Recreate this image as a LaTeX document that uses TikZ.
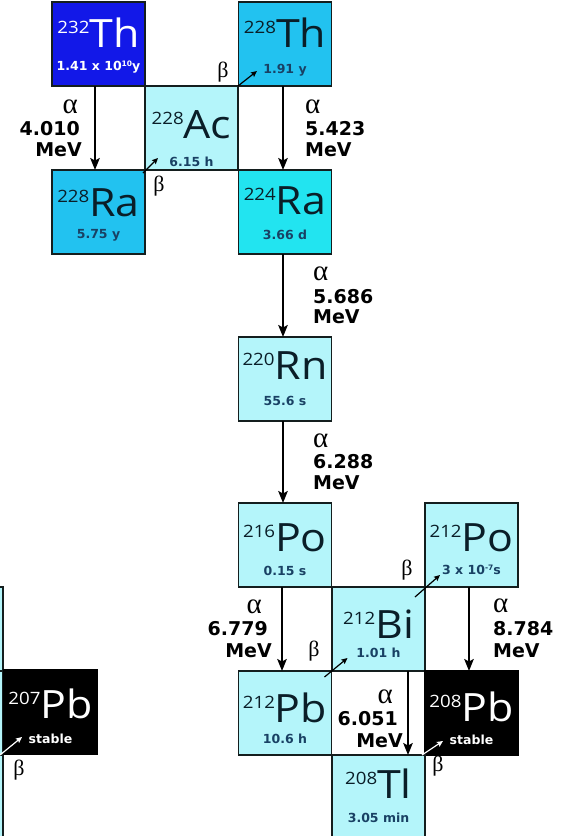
\documentclass[tikz,border=0pt]{standalone}
\usepackage{fontspec}
\usetikzlibrary{arrows.meta}
\newfontfamily\symfont[FakeStretch=1.1]{Open Sans}
\newfontfamily\dvfont{DejaVu Sans}
\newfontfamily\grkfont{Liberation Serif}
\definecolor{cBlue}{RGB}{18,24,232}
\definecolor{cSky}{RGB}{34,194,240}
\definecolor{cCyan}{RGB}{34,228,240}
\definecolor{cLight}{RGB}{180,245,250}
\definecolor{cEdge}{RGB}{20,30,30}
\definecolor{cSym}{RGB}{10,30,40}
\definecolor{cHl}{RGB}{25,65,100}
\newcommand\mass[1]{{\fontsize{17}{17}\selectfont\raisebox{13.5pt}{#1}}}
\newcommand\sups[1]{\raisebox{4pt}{\fontsize{7.5}{7.5}\selectfont #1}}
\begin{document}
\begin{tikzpicture}[x=1pt,y=1pt,
  box/.style={draw=cEdge, line width=1.5pt, minimum width=93pt, minimum height=84pt, inner sep=0pt, outer sep=0pt},
  darkbox/.style={box, draw=black, fill=black},
  sym/.style={anchor=base, inner sep=0pt, text=cSym, font=\symfont\fontsize{39}{39}\selectfont},
  hl/.style={anchor=base, inner sep=0pt, text=cHl, font=\dvfont\bfseries\fontsize{12.5}{12.5}\selectfont},
  ondark/.style={text=white},
  lab/.style={inner sep=0pt, font=\dvfont\bfseries\fontsize{19}{19}\selectfont},
  grk/.style={inner sep=0pt, font=\grkfont\fontsize{29}{29}\selectfont},
  bet/.style={inner sep=0pt, font=\grkfont\fontsize{22}{22}\selectfont},
  adecay/.style={line width=1.6pt, -{Stealth[length=12pt,width=9.5pt,inset=2.5pt]}},
  bdecay/.style={line width=1.2pt, -{Stealth[length=6pt,width=5.5pt,inset=1pt]}},
]
\useasboundingbox (0,0) rectangle (569,-836);
\clip (0,0) rectangle (569,-836);
\fill[white] (0,0) rectangle (569,-836);

% boxes
\node[box, fill=cBlue] (thA) at (98.5,-44) {};
\node[box, fill=cSky] (thB) at (285,-44) {};
\node[box, fill=cLight] (ac) at (191.5,-128) {};
\node[box, fill=cSky] (raA) at (98.5,-212) {};
\node[box, fill=cCyan] (raB) at (285,-212) {};
\node[box, fill=cLight] (rn) at (285,-379) {};
\node[box, fill=cLight] (poA) at (285,-545) {};
\node[box, fill=cLight] (poB) at (471.5,-545) {};
\node[box, fill=cLight] (bi) at (378.5,-629) {};
\node[box, fill=cLight] (pbA) at (285,-713) {};
\node[darkbox] (pbB) at (471.5,-713) {};
\node[box, fill=cLight] (tl) at (378.5,-797) {};
\node[box, fill=cLight] (biL) at (-43.5,-629) {};
\node[box, fill=cLight] (pbL) at (-43.5,-713) {};
\node[box, fill=cLight] (tlL) at (-43.5,-797) {};
\node[darkbox] (pbC) at (50.5,-712) {};

% symbols
\node[sym, ondark] (thAs) at ([yshift=-45pt]thA.north) {\mass{232}Th};
\node[hl, ondark] (thAh) at ([yshift=-68pt]thA.north) {1.41 x 10\sups{10}y};
\node[sym] (thBs) at ([yshift=-45pt]thB.north) {\mass{228}Th};
\node[hl] (thBh) at ([yshift=-71pt]thB.north) {1.91 y};
\node[sym] (acs) at ([yshift=-52pt]ac.north) {\mass{228}Ac};
\node[hl] (ach) at ([yshift=-80pt]ac.north) {6.15 h};
\node[sym] (raAs) at ([yshift=-46pt]raA.north) {\mass{228}Ra};
\node[hl] (raAh) at ([yshift=-68pt]raA.north) {5.75 y};
\node[sym] (raBs) at ([yshift=-44pt]raB.north) {\mass{224}Ra};
\node[hl] (raBh) at ([yshift=-69pt]raB.north) {3.66 d};
\node[sym] (rns) at ([yshift=-42pt]rn.north) {\mass{220}Rn};
\node[hl] (rnh) at ([yshift=-68pt]rn.north) {55.6 s};
\node[sym] (poAs) at ([yshift=-48pt]poA.north) {\mass{216}Po};
\node[hl] (poAh) at ([yshift=-72pt]poA.north) {0.15 s};
\node[sym] (poBs) at ([yshift=-48pt]poB.north) {\mass{212}Po};
\node[hl] (poBh) at ([yshift=-71pt]poB.north) {3 x 10\sups{-7}s};
\node[sym] (bis) at ([yshift=-51pt]bi.north) {\mass{212}Bi};
\node[hl] (bih) at ([yshift=-70pt]bi.north) {1.01 h};
\node[sym] (pbAs) at ([yshift=-51pt]pbA.north) {\mass{212}Pb};
\node[hl] (pbAh) at ([yshift=-72pt]pbA.north) {10.6 h};
\node[sym, ondark] (pbBs) at ([yshift=-50pt]pbB.north) {\mass{208}Pb};
\node[hl, ondark] (pbBh) at ([yshift=-73pt]pbB.north) {stable};
\node[sym] (tls) at ([yshift=-43pt]tl.north) {\mass{208}Tl};
\node[hl] (tlh) at ([yshift=-67pt]tl.north) {3.05 min};
\node[sym, ondark] (pbCs) at ([yshift=-48pt]pbC.north) {\mass{207}Pb};
\node[hl, ondark] (pbCh) at ([yshift=-73pt]pbC.north) {stable};

% alpha decays
\draw[adecay] ([xshift=-3.5pt]thA.south) -- ([xshift=-3.5pt]raA.north);
\draw[adecay] ([xshift=-2pt]thB.south) -- ([xshift=-2pt]raB.north);
\draw[adecay] ([xshift=-2pt]raB.south) -- ([xshift=-2pt]rn.north);
\draw[adecay] ([xshift=-2pt]rn.south) -- ([xshift=-2pt]poA.north);
\draw[adecay] ([xshift=-3pt]poA.south) -- ([xshift=-3pt]pbA.north);
\draw[adecay] ([xshift=-2.5pt]poB.south) -- ([xshift=-2.5pt]pbB.north);
\draw[adecay] ([xshift=29.5pt]bi.south) -- ([xshift=29.5pt]tl.north);

% alpha labels
\node[grk, anchor=base east] (aA1) at (78,-113) {α};
\node[lab, anchor=base east] (aA2) at (80,-135) {4.010};
\node[lab, anchor=base east] (aA3) at (82,-156) {MeV};
\node[grk, anchor=base west] (aB1) at (305,-113) {α};
\node[lab, anchor=base west] (aB2) at (305,-135) {5.423};
\node[lab, anchor=base west] (aB3) at (305,-156) {MeV};
\node[grk, anchor=base west] (aC1) at (313,-280) {α};
\node[lab, anchor=base west] (aC2) at (313,-303) {5.686};
\node[lab, anchor=base west] (aC3) at (313,-323) {MeV};
\node[grk, anchor=base west] (aD1) at (313,-447) {α};
\node[lab, anchor=base west] (aD2) at (313,-468) {6.288};
\node[lab, anchor=base west] (aD3) at (313,-489) {MeV};
\node[grk, anchor=base east] (aE1) at (262,-613) {α};
\node[lab, anchor=base east] (aE2) at (268,-635) {6.779};
\node[lab, anchor=base east] (aE3) at (272,-657) {MeV};
\node[grk, anchor=base west] (aF1) at (493,-612) {α};
\node[lab, anchor=base west] (aF2) at (493,-635) {8.784};
\node[lab, anchor=base west] (aF3) at (493,-657) {MeV};
\node[grk, anchor=base east] (aG1) at (393,-703) {α};
\node[lab, anchor=base east] (aG2) at (398,-725) {6.051};
\node[lab, anchor=base east] (aG3) at (403,-747) {MeV};

% beta decays
\draw[bdecay] ([shift={(-2,-3)}]raA.north east) -- ([shift={(13,12)}]raA.north east);
\draw[bdecay] ([shift={(0,0)}]ac.north east) -- ([shift={(19,15)}]ac.north east);
\draw[bdecay] ([shift={(-7,-6)}]pbA.north east) -- ([shift={(16,13)}]pbA.north east);
\draw[bdecay] ([shift={(-10,-10)}]bi.north east) -- ([shift={(15,12)}]bi.north east);
\draw[bdecay, white] ([shift={(-3,0)}]tl.north east) -- ([shift={(18,14)}]tl.north east);
\draw[bdecay, white] ([shift={(-3,0)}]tlL.north east) -- ([shift={(19,18)}]tlL.north east);

\node[bet] (bA) at (159,-186) {β};
\node[bet] (bB) at (223,-72) {β};
\node[bet] (bC) at (314,-651) {β};
\node[bet] (bD) at (407,-570) {β};
\node[bet] (bE) at (438,-766) {β};
\node[bet] (bF) at (19,-770) {β};
\end{tikzpicture}
\end{document}
